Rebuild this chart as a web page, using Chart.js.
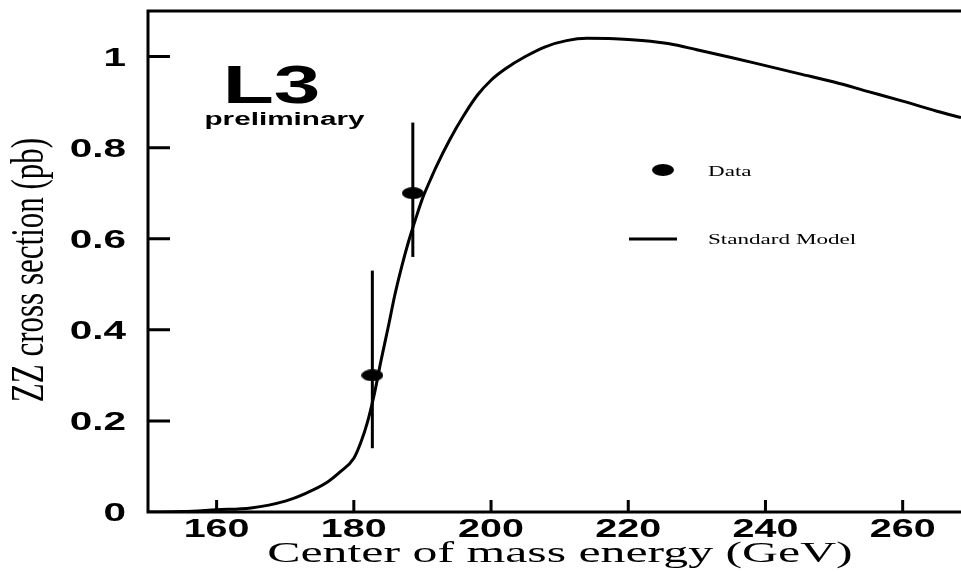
<!DOCTYPE html>
<html>
<head>
<meta charset="utf-8">
<title>ZZ cross section</title>
<script src="https://cdn.jsdelivr.net/npm/chart.js@4.4.0/dist/chart.umd.min.js"></script>
<style>
  html, body { margin: 0; padding: 0; background: #fff; overflow: hidden; }
  #wrap { width: 961px; height: 572px; }
  canvas { display: block; }
</style>
</head>
<body>
<div id="wrap"><canvas id="chart" width="961" height="572"></canvas></div>
<script>
/* ===== DATA ===== */
const X_TICKS = [160, 180, 200, 220, 240, 260];
const Y_TICKS = [0, 0.2, 0.4, 0.6, 0.8, 1];
const Y_LABELS = ['0', '0.2', '0.4', '0.6', '0.8', '1'];

// Standard Model curve
const SM_E  = [150, 155, 160, 165, 170, 173, 176, 178, 180, 181, 182, 183, 184, 185, 186, 187, 188, 189, 190, 191, 192, 194, 196, 198, 200, 202, 205, 208, 211, 214, 218, 222, 226, 230, 235, 240, 245, 250, 255, 260, 265, 268.5];
const SM_XS = [0, 0.001, 0.005, 0.009, 0.024, 0.041, 0.064, 0.088, 0.118, 0.152, 0.198, 0.26, 0.335, 0.405, 0.478, 0.54, 0.595, 0.643, 0.688, 0.724, 0.758, 0.818, 0.87, 0.915, 0.948, 0.972, 1.0, 1.022, 1.035, 1.04, 1.039, 1.035, 1.028, 1.015, 0.998, 0.98, 0.962, 0.944, 0.923, 0.902, 0.88, 0.866];

// L3 measurements
const DATA_E   = [182.7, 188.6];
const DATA_XS  = [0.30, 0.70];
const DATA_LO  = [0.14, 0.56];
const DATA_HI  = [0.53, 0.855];

/* ===== STYLE ===== */
const INK = '#000';
const SANS = '"Liberation Sans", Arial, sans-serif';
const SERIF = '"Liberation Serif", "Times New Roman", serif';

function stretchText(ctx, text, x, y, font, sx, align) {
  ctx.save();
  ctx.translate(x, y);
  ctx.scale(sx, 1);
  ctx.font = font;
  ctx.textAlign = align || 'left';
  ctx.textBaseline = 'alphabetic';
  ctx.fillStyle = INK;
  ctx.fillText(text, 0, 0);
  ctx.restore();
}

function ellipseMarker(w, h) {
  const c = document.createElement('canvas');
  c.width = w; c.height = h;
  const g = c.getContext('2d');
  g.fillStyle = INK;
  g.beginPath();
  g.ellipse(w / 2, h / 2, w / 2, h / 2, 0, 0, Math.PI * 2);
  g.fill();
  return c;
}
const MARKER = ellipseMarker(22, 12);

/* ===== PLUGIN: frame, ticks, labels, error bars, legend ===== */
const frame = {
  id: 'frame',
  beforeDatasetsDraw(chart) {
    const { ctx, scales: { x, y } } = chart;
    ctx.save();
    ctx.strokeStyle = INK;
    ctx.lineWidth = 3;
    DATA_E.forEach((e, i) => {
      const px = x.getPixelForValue(e);
      ctx.beginPath();
      ctx.moveTo(px, y.getPixelForValue(DATA_HI[i]));
      ctx.lineTo(px, y.getPixelForValue(DATA_LO[i]));
      ctx.stroke();
    });
    ctx.restore();
  },
  afterDraw(chart) {
    const { ctx, chartArea: a, scales: { x, y } } = chart;
    ctx.save();
    ctx.strokeStyle = INK;
    ctx.lineWidth = 3;
    ctx.lineCap = 'square';
    // axes + top border
    ctx.beginPath();
    ctx.moveTo(a.left, a.top); ctx.lineTo(a.left, a.bottom); ctx.lineTo(a.right, a.bottom);
    ctx.moveTo(a.left, a.top); ctx.lineTo(a.right, a.top);
    ctx.stroke();

    // inward ticks
    ctx.lineCap = 'butt';
    ctx.beginPath();
    Y_TICKS.forEach(v => {
      if (v === 0) return;
      const py = y.getPixelForValue(v);
      ctx.moveTo(a.left, py); ctx.lineTo(a.left + 22, py);
    });
    X_TICKS.forEach(v => {
      const px = x.getPixelForValue(v);
      ctx.moveTo(px, a.bottom); ctx.lineTo(px, a.bottom - 12);
    });
    ctx.stroke();

    // tick labels
    const tickFont = 'bold 25px ' + SANS;
    Y_TICKS.forEach((v, i) => {
      stretchText(ctx, Y_LABELS[i], 126, y.getPixelForValue(v) + 9, tickFont, 1.62, 'right');
    });
    X_TICKS.forEach(v => {
      stretchText(ctx, String(v), x.getPixelForValue(v), 537, tickFont, 1.58, 'center');
    });

    // axis titles
    stretchText(ctx, 'Center of mass energy (GeV)', 560, 562, '30px ' + SERIF, 1.66, 'center');
    ctx.save();
    ctx.translate(43, 270);
    ctx.rotate(-Math.PI / 2);
    ctx.scale(1, 1.5);
    ctx.font = '31px ' + SERIF;
    ctx.textAlign = 'center';
    ctx.fillStyle = INK;
    ctx.fillText('ZZ cross section (pb)', 0, 0);
    ctx.restore();

    // experiment tag
    stretchText(ctx, 'L3', 271.5, 103, 'bold 54px ' + SANS, 1.55, 'center');
    stretchText(ctx, 'preliminary', 284.5, 125, 'bold 18px ' + SANS, 1.65, 'center');

    // legend
    ctx.drawImage(MARKER, 663 - 11, 170 - 6);
    stretchText(ctx, 'Data', 708, 176, '14px ' + SERIF, 1.65, 'left');
    ctx.lineWidth = 3;
    ctx.beginPath();
    ctx.moveTo(629, 239); ctx.lineTo(677, 239);
    ctx.stroke();
    stretchText(ctx, 'Standard Model', 708, 244, '14px ' + SERIF, 1.65, 'left');
    ctx.restore();
  }
};

/* ===== CHART ===== */
new Chart(document.getElementById('chart'), {
  type: 'line',
  data: {
    datasets: [
      {
        label: 'Standard Model',
        data: SM_E.map((e, i) => ({ x: e, y: SM_XS[i] })),
        borderColor: INK,
        borderWidth: 3,
        pointRadius: 0,
        cubicInterpolationMode: 'monotone',
        fill: false,
      },
      {
        label: 'Data',
        data: DATA_E.map((e, i) => ({ x: e, y: DATA_XS[i] })),
        showLine: false,
        pointStyle: MARKER,
        pointRadius: 6,
        borderColor: INK,
        backgroundColor: INK,
      },
    ],
  },
  options: {
    responsive: false,
    animation: false,
    devicePixelRatio: 1,
    layout: { autoPadding: false, padding: { top: 11, right: 0, left: 0, bottom: 0 } },
    plugins: { legend: { display: false }, tooltip: { enabled: false } },
    scales: {
      x: {
        type: 'linear',
        min: 150,
        max: 268.5,
        grid: { display: false },
        border: { display: false },
        ticks: { display: false },
        afterBuildTicks(s) { s.ticks = X_TICKS.map(v => ({ value: v })); },
        afterFit(s) { s.height = 60; },
      },
      y: {
        min: 0,
        max: 1.1,
        grid: { display: false },
        border: { display: false },
        ticks: { display: false },
        afterBuildTicks(s) { s.ticks = Y_TICKS.map(v => ({ value: v })); },
        afterFit(s) { s.width = 148; },
      },
    },
  },
  plugins: [frame],
});
</script>
</body>
</html>
